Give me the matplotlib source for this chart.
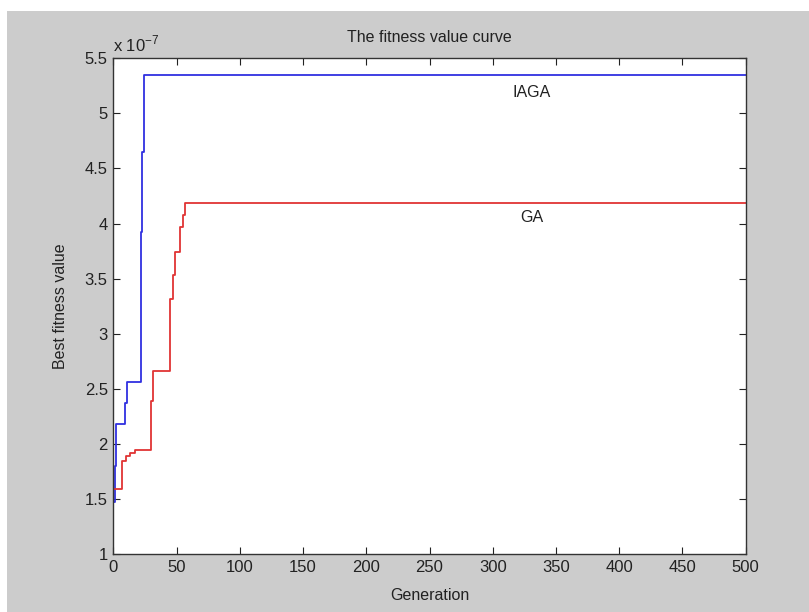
import matplotlib
matplotlib.use("Agg")
import matplotlib.pyplot as plt
from matplotlib.patches import Rectangle

# Data (fitness values in units of 1e-7)
iaga_gen = [0, 1, 2, 9, 11, 22, 23, 24, 500]
iaga_val = [1.47, 1.80, 2.18, 2.375, 2.56, 3.92, 4.65, 5.35, 5.35]
ga_gen = [0, 7, 10, 13, 17, 30, 31, 45, 47, 49, 53, 55, 57, 500]
ga_val = [1.59, 1.845, 1.89, 1.92, 1.94, 2.39, 2.66, 3.315, 3.53, 3.74, 3.97, 4.08, 4.19, 4.19]
xticks = [0, 50, 100, 150, 200, 250, 300, 350, 400, 450, 500]
yticks = [1, 1.5, 2, 2.5, 3, 3.5, 4, 4.5, 5, 5.5]
ytick_labels = ["1", "1.5", "2", "2.5", "3", "3.5", "4", "4.5", "5", "5.5"]

plt.rcParams['font.family'] = ['Liberation Sans', 'DejaVu Sans']

fig = plt.figure(figsize=(8.09, 6.12), dpi=100)
fig.patch.set_facecolor('#cccccc')
# white strips at top and left edges
fig.patches.append(Rectangle((0, 1 - 11/612), 1, 11/612, transform=fig.transFigure,
                             facecolor='white', edgecolor='none', zorder=0))
fig.patches.append(Rectangle((0, 0), 7/809, 1, transform=fig.transFigure,
                             facecolor='white', edgecolor='none', zorder=0))

ax = fig.add_axes([0.1401, 0.0948, 0.7817, 0.8100])
ax.set_facecolor('white')

ax.plot(iaga_gen, iaga_val, drawstyle='steps-post', color='#3030e0', lw=1.3)
ax.plot(ga_gen, ga_val, drawstyle='steps-post', color='#e03434', lw=1.3)

ax.set_xlim(0, 500)
ax.set_ylim(1, 5.5)
ax.set_xticks(xticks)
ax.set_xticklabels([str(t) for t in xticks])
ax.set_yticks(yticks)
ax.set_yticklabels(ytick_labels)
ax.tick_params(direction='in', top=True, right=True, length=5, width=0.8,
               labelsize=12, colors='#222222', pad=4)
for s in ax.spines.values():
    s.set_color('#333333')
    s.set_linewidth(1.0)

ax.text(331, 5.19, 'IAGA', ha='center', va='center', fontsize=11.5, color='#222222')
ax.text(331, 4.05, 'GA', ha='center', va='center', fontsize=11.5, color='#222222')

ax.set_title('The fitness value curve', fontsize=11.5, color='#222222', pad=12)
ax.set_xlabel('Generation', fontsize=11.5, color='#222222', labelpad=10)
ax.set_ylabel('Best fitness value', fontsize=11.5, color='#222222', labelpad=12)
ax.text(0.0, 1.008, r'x 10$^{\mathregular{-7}}$', transform=ax.transAxes, ha='left', va='bottom',
        fontsize=12, color='#222222')

fig.savefig('out.png', dpi=100, facecolor=fig.get_facecolor())
